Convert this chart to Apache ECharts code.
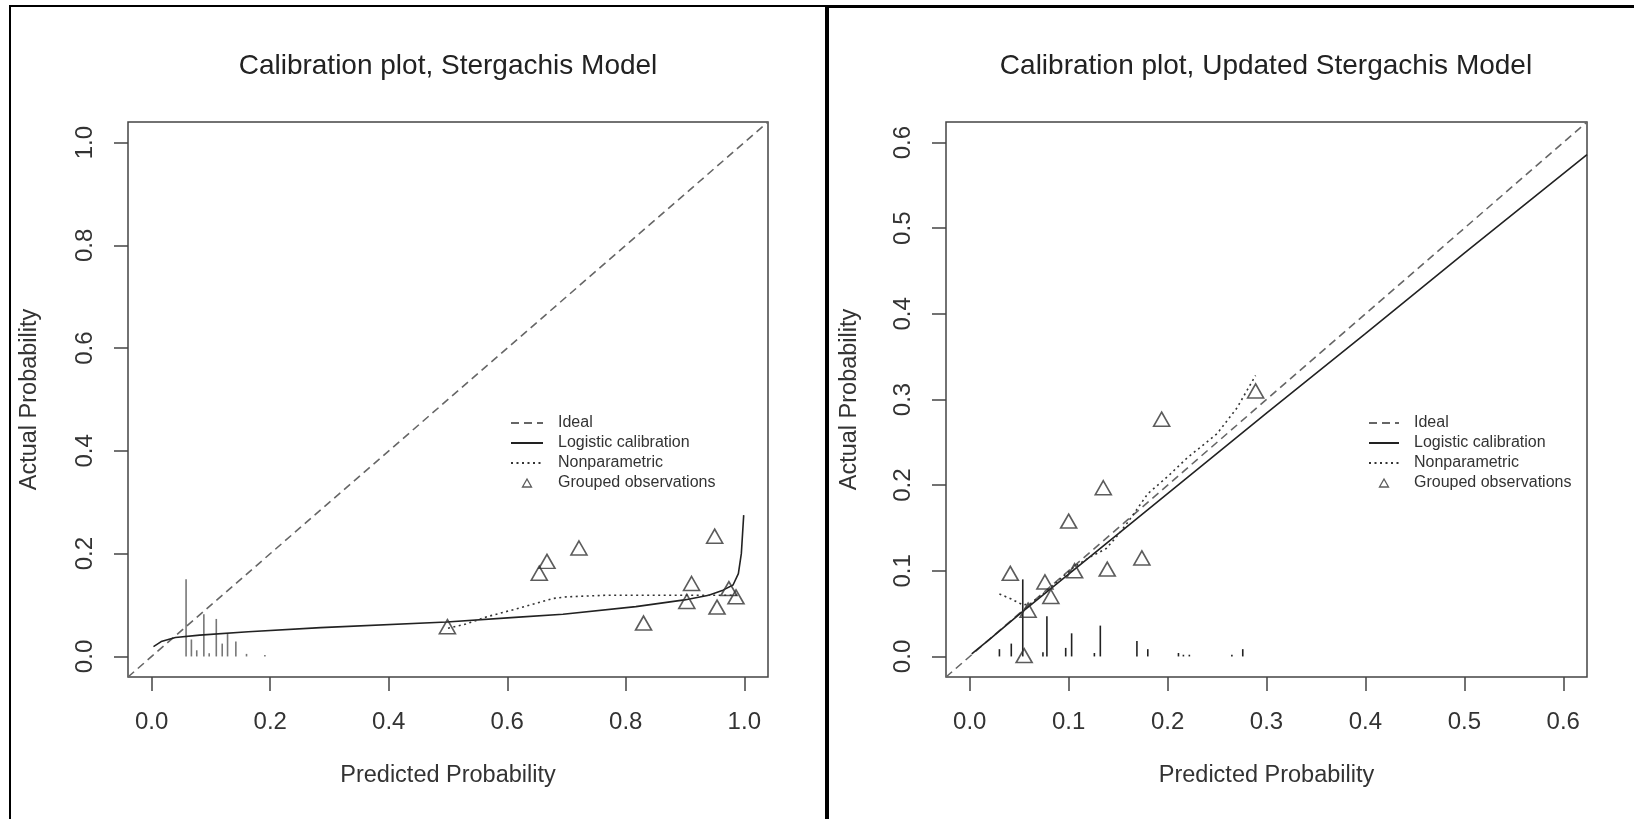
<!DOCTYPE html>
<html>
<head>
<meta charset="utf-8">
<script src="https://cdn.jsdelivr.net/npm/echarts@6/dist/echarts.min.js"></script>
<style>
html,body{margin:0;padding:0;background:#fff;}
#chart{width:1634px;height:819px;}
</style>
</head>
<body>
<div id="chart"></div>
<script>
// ---------- Data ----------
const titles = ['Calibration plot, Stergachis Model', 'Calibration plot, Updated Stergachis Model'];
const xAxisName = 'Predicted Probability';
const yAxisName = 'Actual Probability';
const legendNames = ['Ideal', 'Logistic calibration', 'Nonparametric', 'Grouped observations'];

// Left plot (Stergachis Model)
const leftTicks = [0, 0.2, 0.4, 0.6, 0.8, 1.0];
const leftRange = [-0.04, 1.04];
const leftIdeal = [[-0.04, -0.04], [1.04, 1.04]];
const leftLogistic = [[0.003, 0.019], [0.016, 0.029], [0.04, 0.037], [0.081, 0.0415], [0.163, 0.048],
  [0.285, 0.056], [0.498, 0.067], [0.613, 0.076], [0.694, 0.082], [0.817, 0.097], [0.899, 0.110],
  [0.94, 0.119], [0.964, 0.129], [0.981, 0.139], [0.99, 0.161], [0.995, 0.2], [0.999, 0.275]];
const leftNonparam = [[0.5, 0.055], [0.53, 0.063], [0.565, 0.077], [0.62, 0.094], [0.678, 0.113],
  [0.70, 0.116], [0.765, 0.119], [0.9, 0.119], [0.99, 0.119]];
const leftGroups = [[0.499, 0.058], [0.654, 0.162], [0.667, 0.185], [0.721, 0.211], [0.830, 0.065],
  [0.903, 0.107], [0.911, 0.142], [0.950, 0.234], [0.954, 0.096], [0.974, 0.132], [0.986, 0.116]];
const leftSpikes = [[0.058, 0.150], [0.067, 0.033], [0.076, 0.012], [0.088, 0.082], [0.097, 0.006],
  [0.109, 0.073], [0.119, 0.025], [0.128, 0.045], [0.142, 0.029], [0.160, 0.005], [0.191, 0.003]];

// Right plot (Updated Stergachis Model)
const rightTicks = [0, 0.1, 0.2, 0.3, 0.4, 0.5, 0.6];
const rightRange = [-0.024, 0.624];
const rightIdeal = [[-0.024, -0.024], [0.624, 0.624]];
const rightLogistic = [[0.002, 0.003], [0.02, 0.02], [0.05, 0.049], [0.1, 0.096], [0.15, 0.143],
  [0.2, 0.19], [0.3, 0.284], [0.4, 0.377], [0.5, 0.471], [0.624, 0.586]];
const rightNonparam = [[0.030, 0.073], [0.042, 0.067], [0.054, 0.060], [0.062, 0.062], [0.075, 0.074],
  [0.09, 0.089], [0.105, 0.104], [0.12, 0.115], [0.138, 0.126], [0.15, 0.142], [0.16, 0.157],
  [0.18, 0.19], [0.2, 0.21], [0.22, 0.232], [0.25, 0.26], [0.27, 0.29], [0.289, 0.328]];
const rightGroups = [[0.041, 0.097], [0.055, 0.001], [0.059, 0.054], [0.076, 0.087], [0.082, 0.070],
  [0.100, 0.158], [0.106, 0.100], [0.135, 0.197], [0.139, 0.102], [0.174, 0.115], [0.194, 0.277],
  [0.289, 0.310]];
const rightSpikes = [[0.030, 0.0085], [0.042, 0.015], [0.0536, 0.09], [0.074, 0.005], [0.078, 0.047],
  [0.097, 0.010], [0.103, 0.027], [0.126, 0.004], [0.132, 0.036], [0.169, 0.018], [0.180, 0.0085],
  [0.211, 0.004], [0.216, 0.002], [0.222, 0.002], [0.265, 0.002], [0.276, 0.0085]];

// ---------- Chart ----------
const FONT = 'Liberation Sans, Arial, sans-serif';
const TXT = '#222';
const chart = echarts.init(document.getElementById('chart'), null, {renderer: 'canvas'});

function axisPair(idx, range, ticks, nameGapY) {
  const common = (isY) => ({
    type: 'value', gridIndex: idx, min: range[0], max: range[1],
    splitLine: {show: false},
    axisLine: {show: false, onZero: false},
    axisTick: {show: true, inside: false, length: 14, customValues: ticks,
      lineStyle: {color: '#444', width: 1.5}},
    axisLabel: {show: true, customValues: ticks, margin: isY ? 31 : 33, rotate: isY ? 90 : 0,
      fontFamily: FONT, fontSize: 24, color: '#333',
      formatter: v => v.toFixed(1)},
    name: isY ? yAxisName : xAxisName, nameLocation: 'middle', nameGap: isY ? nameGapY : 87,
    nameTextStyle: {fontFamily: FONT, fontSize: 23.5, color: '#333'}
  });
  return [common(false), common(true)];
}
const [lx, ly] = axisPair(0, leftRange, leftTicks, 86);
const [rx, ry] = axisPair(1, rightRange, rightTicks, 84);

function spikeSeries(idx, data, color) {
  return {
    type: 'custom', xAxisIndex: idx, yAxisIndex: idx, data: data, encode: {x: 0, y: 1},
    silent: true, z: 1,
    renderItem: function (params, api) {
      const x = api.value(0), h = api.value(1);
      const p0 = api.coord([x, 0]), p1 = api.coord([x, h]);
      return {type: 'line', shape: {x1: p0[0], y1: p0[1], x2: p1[0], y2: p1[1]},
        style: {stroke: color, lineWidth: 1.6}};
    }
  };
}
function lineSeries(idx, name, data, color, type, width) {
  return {type: 'line', name: name, xAxisIndex: idx, yAxisIndex: idx, data: data,
    showSymbol: false, symbol: 'none', smooth: false, z: 2,
    lineStyle: {color: color, width: width || 1.6, type: type}, itemStyle: {color: color}};
}
function groupSeries(idx, data) {
  return {type: 'scatter', name: legendNames[3], xAxisIndex: idx, yAxisIndex: idx, data: data,
    symbol: 'triangle', symbolSize: [16, 14], z: 3,
    itemStyle: {color: 'rgba(255,255,255,0)', borderColor: '#333', borderWidth: 1.6}};
}

function legendFor(left, width) {
  const triPath = 'path://M0,0 M' + width + ',10 M' + (width / 2) + ',1 L' + (width / 2 + 4.5) + ',9 L' + (width / 2 - 4.5) + ',9 Z';
  return {
    orient: 'vertical', left: left, top: 415, padding: 0, itemWidth: width, itemHeight: 10, itemGap: 4,
    selectedMode: false,
    textStyle: {fontFamily: FONT, fontSize: 16, color: '#333', lineHeight: 16, padding: [0, 0, 0, 10]},
    data: [
      {name: legendNames[0], itemStyle: {opacity: 0}},
      {name: legendNames[1], itemStyle: {opacity: 0}},
      {name: legendNames[2], itemStyle: {opacity: 0}},
      {name: legendNames[3], icon: triPath, itemStyle: {color: 'rgba(255,255,255,0)', borderColor: '#333', borderWidth: 1.3}}
    ]
  };
}

const option = {
  backgroundColor: '#fff',
  animation: false,
  title: [
    {text: titles[0], left: 448, top: 52, textAlign: 'center', padding: 0,
      textStyle: {fontFamily: FONT, fontSize: 28, fontWeight: 'normal', color: TXT}},
    {text: titles[1], left: 1266, top: 52, textAlign: 'center', padding: 0,
      textStyle: {fontFamily: FONT, fontSize: 28, fontWeight: 'normal', color: TXT}}
  ],
  legend: [legendFor(510, 32), legendFor(1368, 30)],
  grid: [
    {left: 128, top: 122, width: 640, height: 555, show: true, borderColor: '#444', borderWidth: 1.5,
      backgroundColor: 'rgba(0,0,0,0)', containLabel: false},
    {left: 946, top: 122, width: 641, height: 555, show: true, borderColor: '#444', borderWidth: 1.5,
      backgroundColor: 'rgba(0,0,0,0)', containLabel: false}
  ],
  xAxis: [lx, rx],
  yAxis: [ly, ry],
  series: [
    spikeSeries(0, leftSpikes, '#777'),
    lineSeries(0, legendNames[0], leftIdeal, '#666', [8, 5]),
    lineSeries(0, legendNames[1], leftLogistic, '#222'),
    lineSeries(0, legendNames[2], leftNonparam, '#333', [2, 3.5]),
    groupSeries(0, leftGroups),
    spikeSeries(1, rightSpikes, '#222'),
    lineSeries(1, legendNames[0], rightIdeal, '#666', [8, 5]),
    lineSeries(1, legendNames[1], rightLogistic, '#222'),
    lineSeries(1, legendNames[2], rightNonparam, '#333', [2, 3.5]),
    groupSeries(1, rightGroups)
  ],
  graphic: [
    {type: 'rect', shape: {x: 9, y: 5, width: 2, height: 814}, style: {fill: '#000'}, silent: true},
    {type: 'rect', shape: {x: 9, y: 5, width: 819, height: 2}, style: {fill: '#000'}, silent: true},
    {type: 'rect', shape: {x: 825, y: 5, width: 4, height: 814}, style: {fill: '#000'}, silent: true},
    {type: 'rect', shape: {x: 825, y: 5, width: 809, height: 3}, style: {fill: '#000'}, silent: true}
  ]
};
chart.setOption(option);
</script>
</body>
</html>
